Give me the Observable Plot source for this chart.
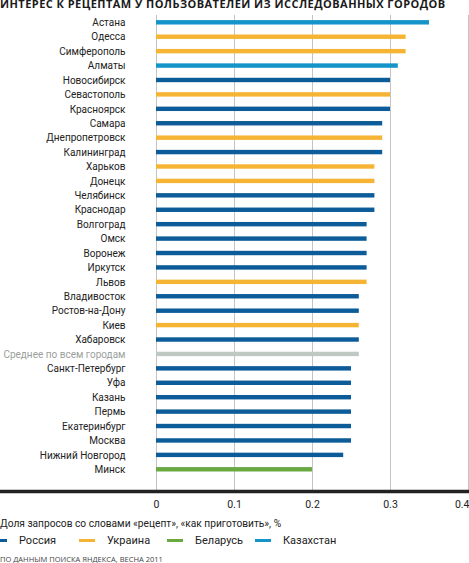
<!DOCTYPE html>
<html>
<head>
<meta charset="utf-8">
<script src="https://cdn.jsdelivr.net/npm/d3@7"></script>
<script src="https://cdn.jsdelivr.net/npm/@observablehq/plot@0.6"></script>
<style>
  html, body { margin: 0; padding: 0; background: #fff; width: 469px; height: 563px; overflow: hidden; }
  body { font-family: Roboto, sans-serif; color: #222; }
  #title { font-family: "Open Sans", sans-serif; font-weight: bold; font-size: 11px; letter-spacing: 0.45px; height: 14px; line-height: 14px; margin-top: -3px; margin-bottom: 3px; white-space: nowrap; color: #1a1a1a; }
  #chart svg { display: block; }
  #caption { font-size: 10.2px; height: 14px; line-height: 14px; margin-top: 2.5px; white-space: nowrap; }
  #legend { display: flex; height: 14px; line-height: 14px; margin-top: 3px; margin-left: -9px; font-size: 11px; }
  .item { width: 88px; display: flex; align-items: center; flex: none; }
  .sw { width: 16px; height: 3px; margin-right: 12px; flex: none; }
  #footer { font-family: "Open Sans", sans-serif; font-size: 7.5px; height: 10px; line-height: 10px; margin-top: 6px; color: #444; white-space: nowrap; }
</style>
</head>
<body>
<div id="title"></div>
<div id="chart"></div>
<div id="caption"></div>
<div id="legend"></div>
<div id="footer"></div>
<script>
const titleText = "ИНТЕРЕС К РЕЦЕПТАМ У ПОЛЬЗОВАТЕЛЕЙ ИЗ ИССЛЕДОВАННЫХ ГОРОДОВ";
const captionText = "Доля запросов со словами «рецепт», «как приготовить», %";
const footerText = "ПО ДАННЫМ ПОИСКА ЯНДЕКСА, ВЕСНА 2011";
const averageLabel = "Среднее по всем городам";

const cities = ["Астана","Одесса","Симферополь","Алматы","Новосибирск","Севастополь","Красноярск","Самара","Днепропетровск","Калининград","Харьков","Донецк","Челябинск","Краснодар","Волгоград","Омск","Воронеж","Иркутск","Львов","Владивосток","Ростов-на-Дону","Киев","Хабаровск",averageLabel,"Санкт-Петербург","Уфа","Казань","Пермь","Екатеринбург","Москва","Нижний Новгород","Минск"];
const values = [0.35,0.32,0.32,0.31,0.30,0.30,0.30,0.29,0.29,0.29,0.28,0.28,0.28,0.28,0.27,0.27,0.27,0.27,0.27,0.26,0.26,0.26,0.26,0.26,0.25,0.25,0.25,0.25,0.25,0.25,0.24,0.20];
const countries = ["Казахстан","Украина","Украина","Казахстан","Россия","Украина","Россия","Россия","Украина","Россия","Украина","Украина","Россия","Россия","Россия","Россия","Россия","Россия","Украина","Россия","Россия","Украина","Россия","Среднее","Россия","Россия","Россия","Россия","Россия","Россия","Россия","Беларусь"];
const legendNames = ["Россия","Украина","Беларусь","Казахстан"];
const legendColors = ["#0b5c98","#f5b433","#6aa942","#1594c9"];
const averageColor = "#c0c8c4";
const xTicks = [0, 0.1, 0.2, 0.3];
const xLastTick = [0.4];

const data = cities.map((c, i) => ({city: c, value: values[i], country: countries[i]}));
const colorOf = k => k === "Среднее" ? averageColor : legendColors[legendNames.indexOf(k)];

document.getElementById("title").textContent = titleText;
document.getElementById("caption").textContent = captionText;
document.getElementById("footer").textContent = footerText;
const lg = document.getElementById("legend");
legendNames.forEach((n, i) => {
  const it = document.createElement("div"); it.className = "item";
  const sw = document.createElement("div"); sw.className = "sw"; sw.style.background = legendColors[i];
  const tx = document.createElement("span"); tx.textContent = n;
  it.appendChild(sw); it.appendChild(tx); lg.appendChild(it);
});

const W = 469, H = 500;
const plot = Plot.plot({
  width: W, height: H,
  marginLeft: 156, marginRight: 1, marginTop: 1, marginBottom: 24,
  style: {fontFamily: "Roboto", fontSize: "10px", color: "#222", background: "#fff"},
  x: {domain: [0, 0.4], axis: null, label: null},
  y: {domain: cities, range: [1.1, 462.5], padding: 0, round: false, axis: null, label: null},
  marks: [
    Plot.gridX([0, 0.1, 0.2, 0.3, 0.4], {stroke: "#c4c4c4", strokeOpacity: 1, strokeWidth: 1}),
    Plot.barX(data, {y: "city", x: "value", fill: d => colorOf(d.country), insetTop: 5, insetBottom: 5}),
    Plot.axisY(cities, {tickSize: 0, tickPadding: 31, textAnchor: "end", label: null, fill: d => d === averageLabel ? "#9a9f9d" : "#222", fontSize: 10}),
    Plot.frame({anchor: "bottom", stroke: "#222", strokeWidth: 3.5, insetLeft: -156, insetBottom: -1}),
    Plot.axisX(xTicks, {anchor: "bottom", tickSize: 0, tickPadding: 10, label: null, tickFormat: d => String(d), fill: "#222", fontSize: 10.5}),
    Plot.axisX(xLastTick, {anchor: "bottom", tickSize: 0, tickPadding: 10, label: null, tickFormat: d => String(d), textAnchor: "end", dx: 1, fill: "#222", fontSize: 10.5})
  ]
});
document.getElementById("chart").appendChild(plot);
</script>
</body>
</html>
